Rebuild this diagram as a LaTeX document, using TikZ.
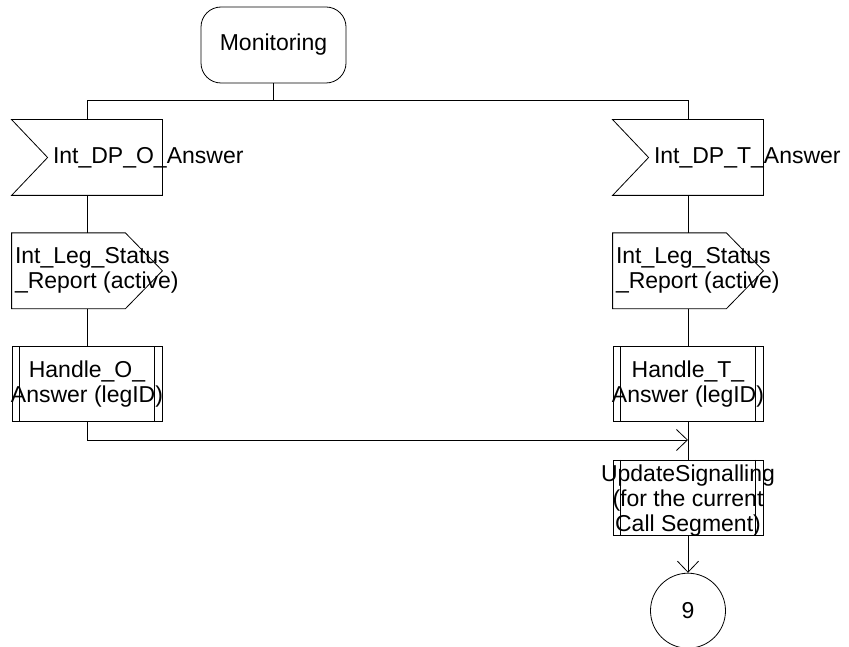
\documentclass[tikz,border=0pt]{standalone}
\usepackage{fontspec}
\setmainfont{Liberation Sans}
\usetikzlibrary{positioning,arrows.meta}

\begin{document}
\begin{tikzpicture}[
  x=1pt, y=-1pt,
  node distance=37.5pt,
  line width=0.8pt,
  every node/.style={font=\fontsize{23}{25}\selectfont},
  state/.style={draw, rounded corners=20pt, minimum width=145pt, minimum height=76pt},
  insig/.style={minimum width=150pt, minimum height=75pt, inner sep=0pt,
    append after command={\pgfextra{\draw (\tikzlastnode.north west) -- (\tikzlastnode.north east)
      -- (\tikzlastnode.south east) -- (\tikzlastnode.south west)
      -- ([xshift=36pt]\tikzlastnode.west) -- cycle;}}},
  outsig/.style={minimum width=150pt, minimum height=75pt, inner sep=0pt,
    append after command={\pgfextra{\draw (\tikzlastnode.north west) -- ([xshift=-37pt]\tikzlastnode.north east)
      -- (\tikzlastnode.east) -- ([xshift=-37pt]\tikzlastnode.south east)
      -- (\tikzlastnode.south west) -- cycle;}}},
  proc/.style={draw, minimum width=150pt, minimum height=75pt, inner sep=0pt,
    path picture={\draw ([xshift=7.5pt]path picture bounding box.north west) -- ([xshift=7.5pt]path picture bounding box.south west)
      ([xshift=-7.5pt]path picture bounding box.north east) -- ([xshift=-7.5pt]path picture bounding box.south east);}},
  conn/.style={draw, circle, minimum size=75pt, inner sep=0pt},
  lefttxt/.style={inner sep=3pt, align=left, anchor=west},
  midtxt/.style={inner sep=0pt, align=center},
  >={Straight Barb[length=11pt,width=21pt]}
]
\useasboundingbox (0,0) rectangle (849,647);

\node[state] (mon) at (273.5,45) {Monitoring};
\coordinate[below=17pt of mon] (split);

\node[insig, label={[lefttxt, xshift=38pt]west:{Int\_DP\_O\_Answer}}] (in1) at (87,157.5) {};
\node[outsig, below=of in1, label={[lefttxt]west:{Int\_Leg\_Status\\\_Report (active)}}] (out1) {};
\node[proc, below=of out1, label={[midtxt]center:{Handle\_O\_\\Answer (legID)}}] (proc1) {};

\node[insig, label={[lefttxt, xshift=38pt]west:{Int\_DP\_T\_Answer}}] (in2) at (688,157.5) {};
\node[outsig, below=of in2, label={[lefttxt]west:{Int\_Leg\_Status\\\_Report (active)}}] (out2) {};
\node[proc, below=of out2, label={[midtxt]center:{Handle\_T\_\\Answer (legID)}}] (proc2) {};
\coordinate[below=18pt of proc2] (merge);
\node[proc, below=of proc2, label={[midtxt, yshift=-3pt]center:{UpdateSignalling\\(for the current\\Call Segment)}}] (upd) {};
\node[conn, below=of upd] (c9) {9};

\draw (mon) -- (split);
\draw (in1) |- (split) -| (in2);
\draw (in1) -- (out1) -- (proc1);
\draw (in2) -- (out2) -- (proc2) -- (upd);
\draw[->] (proc1) |- (merge);
\draw[->] (upd) -- (c9);
\end{tikzpicture}
\end{document}
